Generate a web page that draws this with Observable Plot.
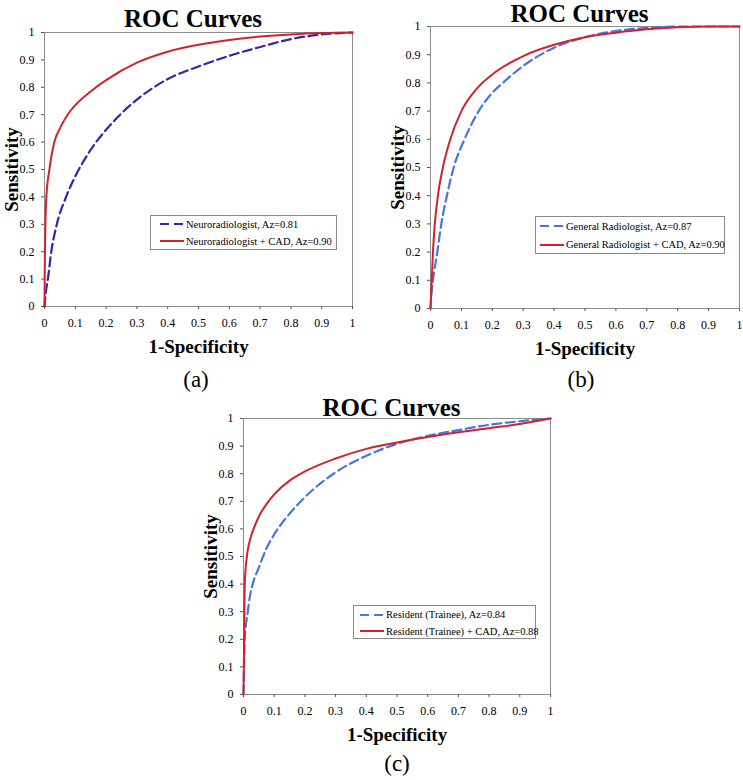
<!DOCTYPE html>
<html><head><meta charset="utf-8">
<script src="https://cdn.jsdelivr.net/npm/d3@7"></script>
<script src="https://cdn.jsdelivr.net/npm/@observablehq/plot@0.6"></script>
<style>
body{margin:0;background:#fff;}
#root{position:relative;width:743px;height:780px;overflow:hidden;font-family:"Liberation Serif","Times New Roman",serif;color:#000;background:#fff;}
.panel{position:absolute;}
.panel svg{overflow:visible;background:transparent;}
.title{position:absolute;font-weight:bold;font-size:25px;line-height:25px;text-align:center;white-space:nowrap;}
.letter{position:absolute;font-size:23px;line-height:23px;text-align:center;}
.legend{position:absolute;border:1px solid #8a8a8a;background:#fff;box-sizing:border-box;}
.legend .row{position:absolute;height:14px;display:flex;align-items:center;font-size:10.5px;white-space:nowrap;}
.legend .row svg{margin-right:2px;}
g[aria-label="x-axis label"] text, g[aria-label="y-axis label"] text{font-weight:bold;font-size:19px;}
</style></head>
<body><div id="root"></div>
<script>
// ---- Data ----
const xTicks = [0, 0.1, 0.2, 0.3, 0.4, 0.5, 0.6, 0.7, 0.8, 0.9, 1];
const yTicks = [0, 0.1, 0.2, 0.3, 0.4, 0.5, 0.6, 0.7, 0.8, 0.9, 1];

// Panel (a)
const neuroX    = [0, 0.004, 0.011, 0.022, 0.04, 0.07, 0.1, 0.15, 0.2, 0.25, 0.3, 0.4, 0.5, 0.6, 0.7, 0.8, 0.9, 1];
const neuroY    = [0, 0.05, 0.1, 0.2, 0.3, 0.4, 0.475, 0.572, 0.645, 0.705, 0.755, 0.83, 0.876, 0.915, 0.947, 0.976, 0.993, 1];
const neuroCadX = [0, 0.001, 0.003, 0.006, 0.016, 0.032, 0.05, 0.075, 0.1, 0.15, 0.2, 0.3, 0.4, 0.5, 0.6, 0.7, 0.8, 0.9, 1];
const neuroCadY = [0, 0.15, 0.3, 0.4, 0.5, 0.6, 0.65, 0.7, 0.735, 0.785, 0.826, 0.89, 0.93, 0.955, 0.973, 0.985, 0.993, 0.998, 1];

// Panel (b)
const genX    = [0, 0.003, 0.008, 0.022, 0.035, 0.053, 0.075, 0.11, 0.156, 0.2, 0.234, 0.3, 0.4, 0.5, 0.6, 0.7, 0.8, 1];
const genY    = [0, 0.05, 0.1, 0.2, 0.3, 0.4, 0.5, 0.6, 0.7, 0.765, 0.8, 0.86, 0.925, 0.962, 0.984, 0.995, 1, 1];
const genCadX = [0, 0.002, 0.004, 0.008, 0.014, 0.024, 0.04, 0.064, 0.1, 0.15, 0.2, 0.3, 0.4, 0.5, 0.6, 0.7, 0.8, 0.9, 1];
const genCadY = [0, 0.05, 0.1, 0.2, 0.3, 0.4, 0.5, 0.6, 0.7, 0.78, 0.83, 0.895, 0.935, 0.962, 0.978, 0.99, 0.997, 1, 1];

// Panel (c)
const resX    = [0, 0.002, 0.004, 0.014, 0.02, 0.03, 0.05, 0.075, 0.1, 0.15, 0.2, 0.3, 0.4, 0.5, 0.6, 0.7, 0.8, 0.9, 1];
const resY    = [0, 0.1, 0.2, 0.3, 0.35, 0.4, 0.46, 0.53, 0.58, 0.655, 0.715, 0.805, 0.865, 0.908, 0.937, 0.958, 0.977, 0.99, 1];
const resCadX = [0, 0.001, 0.002, 0.003, 0.004, 0.011, 0.02, 0.033, 0.05, 0.075, 0.1, 0.15, 0.2, 0.3, 0.4, 0.5, 0.6, 0.7, 0.8, 0.9, 1];
const resCadY = [0, 0.1, 0.2, 0.3, 0.4, 0.5, 0.555, 0.6, 0.645, 0.69, 0.725, 0.775, 0.808, 0.855, 0.89, 0.913, 0.933, 0.95, 0.965, 0.98, 1];

const seriesLabels = {
  a: ["Neuroradiologist, Az=0.81", "Neuroradiologist + CAD, Az=0.90"],
  b: ["General Radiologist, Az=0.87", "General Radiologist + CAD, Az=0.90"],
  c: ["Resident (Trainee), Az=0.84", "Resident (Trainee) + CAD, Az=0.88"]
};
const panelLetters = ["(a)", "(b)", "(c)"];
const chartTitle = "ROC Curves";
const xLabel = "1-Specificity";
const yLabel = "Sensitivity";

// ---- Styles ----
const RED = "#d0232b";
const BLUE = "#4a74e2";
const INDIGO = "#3a22ae";
const DASH = "9,4.5";

const zip = (xs, ys) => xs.map((x, i) => ({x, y: ys[i]}));

const panels = [
  {key: "a", left: 0, top: 0, width: 372, height: 380, frame: [44, 32, 352, 306],
   series: [{xs: neuroX, ys: neuroY, color: INDIGO, dashed: true}, {xs: neuroCadX, ys: neuroCadY, color: RED, dashed: false}],
   titleTop: 6, letterTop: 368, letterCx: 196,
   legend: {left: 150, top: 215, width: 187, height: 35, pad: 10, rows: [9, 26]}},
  {key: "b", left: 372, top: 0, width: 371, height: 380, frame: [430, 26, 739, 308],
   series: [{xs: genX, ys: genY, color: BLUE, dashed: true}, {xs: genCadX, ys: genCadY, color: RED, dashed: false}],
   titleTop: 1, letterTop: 368, letterCx: 581,
   legend: {left: 535, top: 216, width: 190, height: 38, pad: 5, rows: [10, 28.5]}},
  {key: "c", left: 200, top: 385, width: 380, height: 395, frame: [243, 418, 550, 694],
   series: [{xs: resX, ys: resY, color: BLUE, dashed: true}, {xs: resCadX, ys: resCadY, color: RED, dashed: false}],
   titleTop: 395, letterTop: 752, letterCx: 397,
   legend: {left: 353, top: 605, width: 183, height: 34, pad: 7, rows: [9.5, 26]}}
];

const root = document.getElementById("root");

panels.forEach((p, i) => {
  const [fx0, fy0, fx1, fy1] = p.frame;
  const chart = Plot.plot({
    width: p.width,
    height: p.height,
    marginLeft: fx0 - p.left,
    marginTop: fy0 - p.top,
    marginRight: p.left + p.width - fx1,
    marginBottom: p.top + p.height - fy1,
    style: {fontFamily: '"Liberation Serif","Times New Roman",serif', fontSize: "12px", color: "#000", background: "transparent", overflow: "visible"},
    x: {domain: [0, 1]},
    y: {domain: [0, 1]},
    marks: [
      Plot.frame({stroke: "#8c8c8c"}),
      Plot.axisX({ticks: xTicks, tickFormat: d => String(d), tickSize: 3, tickPadding: 9, stroke: "#555",
                  label: xLabel, labelAnchor: "center", labelArrow: "none", labelOffset: 46, fontSize: 12}),
      Plot.axisY({ticks: yTicks, tickFormat: d => String(d), tickSize: 3, tickPadding: 7, stroke: "#555",
                  label: yLabel, labelAnchor: "center", labelArrow: "none", labelOffset: 40, fontSize: 12}),
      ...p.series.map(s => Plot.line(zip(s.xs, s.ys), {
        x: "x", y: "y", stroke: s.color, strokeWidth: s.dashed ? 2.2 : 2,
        strokeDasharray: s.dashed ? DASH : null, curve: "monotone-x"
      }))
    ]
  });
  const wrap = document.createElement("div");
  wrap.className = "panel";
  wrap.style.left = p.left + "px";
  wrap.style.top = p.top + "px";
  wrap.appendChild(chart);
  root.appendChild(wrap);

  // title
  const t = document.createElement("div");
  t.className = "title";
  t.textContent = chartTitle;
  const cx = (fx0 + fx1) / 2 - 5;
  t.style.left = (cx - 100) + "px";
  t.style.width = "200px";
  t.style.top = p.titleTop + "px";
  root.appendChild(t);

  // panel letter
  const l = document.createElement("div");
  l.className = "letter";
  l.textContent = panelLetters[i];
  l.style.left = (p.letterCx - 30) + "px";
  l.style.width = "60px";
  l.style.top = p.letterTop + "px";
  root.appendChild(l);

  // legend
  const lg = p.legend;
  const box = document.createElement("div");
  box.className = "legend";
  box.style.left = lg.left + "px";
  box.style.top = lg.top + "px";
  box.style.width = lg.width + "px";
  box.style.height = lg.height + "px";
  p.series.forEach((s, j) => {
    const row = document.createElement("div");
    row.className = "row";
    row.style.left = (lg.pad - 1) + "px";
    row.style.top = (lg.rows[j] - 8) + "px";
    const ns = "http://www.w3.org/2000/svg";
    const sv = document.createElementNS(ns, "svg");
    sv.setAttribute("width", "24");
    sv.setAttribute("height", "4");
    const ln = document.createElementNS(ns, "line");
    ln.setAttribute("x1", "0"); ln.setAttribute("x2", "24");
    ln.setAttribute("y1", "2"); ln.setAttribute("y2", "2");
    ln.setAttribute("stroke", s.color);
    ln.setAttribute("stroke-width", "2");
    if (s.dashed) ln.setAttribute("stroke-dasharray", "9,5");
    sv.appendChild(ln);
    row.appendChild(sv);
    const span = document.createElement("span");
    span.textContent = seriesLabels[p.key][j];
    row.appendChild(span);
    box.appendChild(row);
  });
  root.appendChild(box);
});
</script>
</body></html>
